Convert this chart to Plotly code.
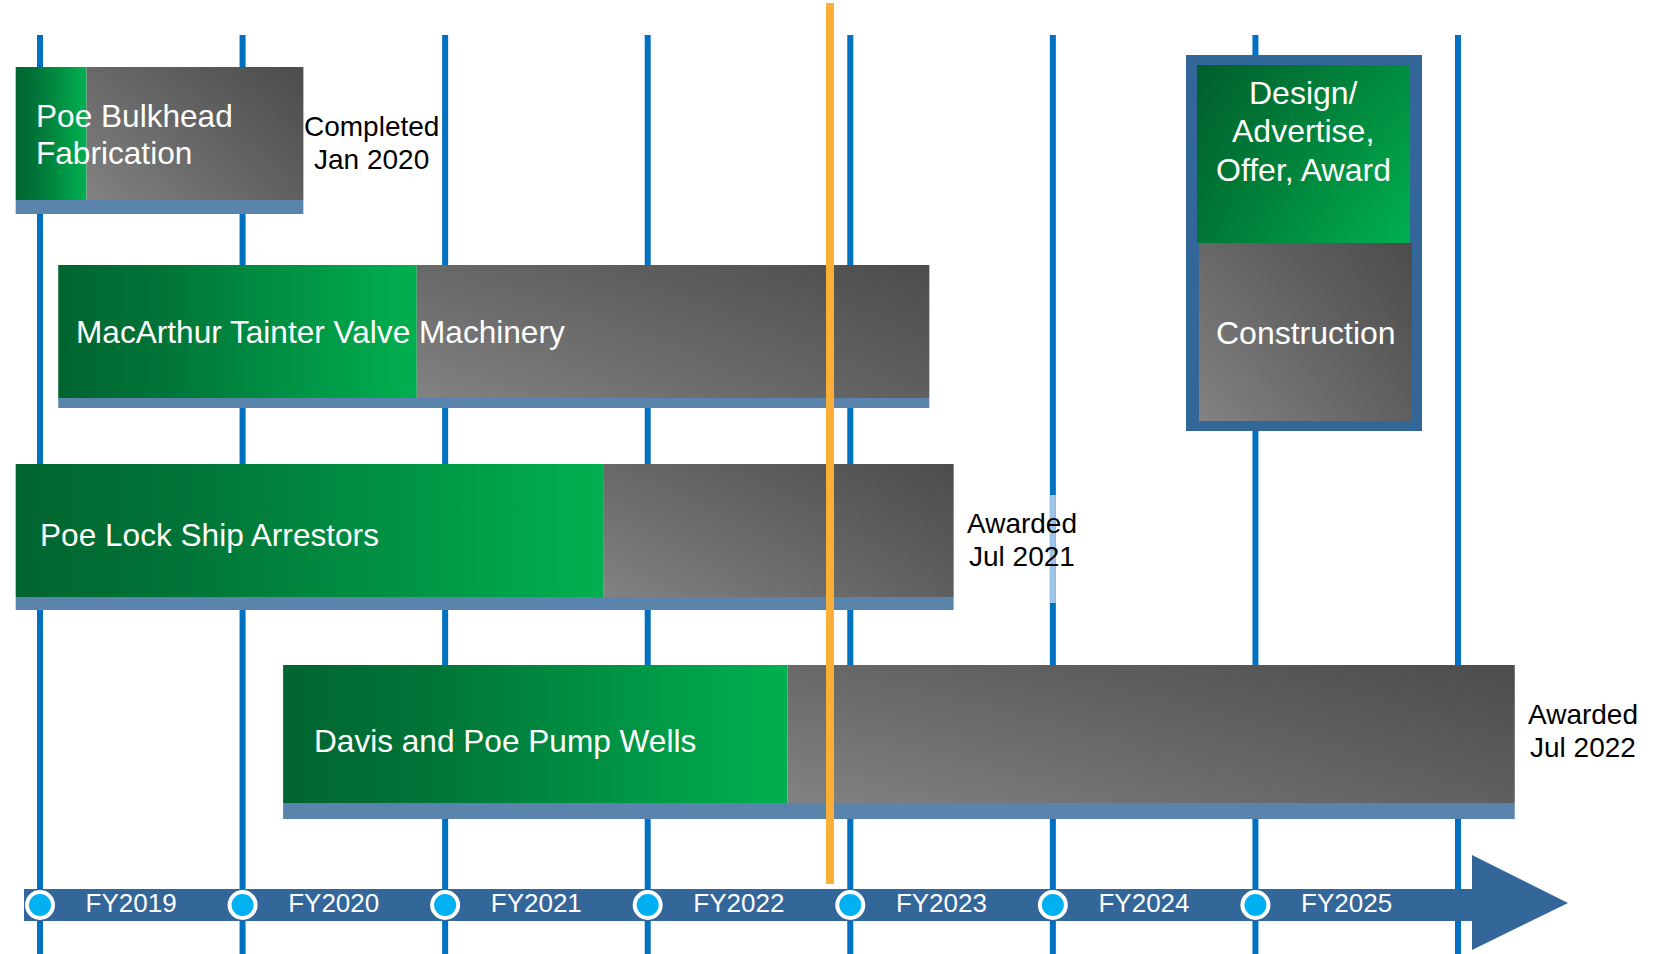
import plotly.graph_objects as go

# ---------------- data ----------------
projects = ["Poe Bulkhead<br>Fabrication",
            "MacArthur Tainter Valve Machinery",
            "Poe Lock Ship Arrestors",
            "Davis and Poe Pump Wells"]
start_fy = [2018.88, 2019.09, 2018.88, 2020.20]    # design start (fiscal-year units)
award_fy = [2019.23, 2020.86, 2021.78, 2022.69]    # end of design / award
finish_fy = [2020.30, 2023.39, 2023.51, 2026.28]   # end of construction
notes = ["Completed<br>Jan 2020", "", "Awarded<br>Jul 2021", "Awarded<br>Jul 2022"]
fiscal_years = [2019, 2020, 2021, 2022, 2023, 2024, 2025]
fy_labels = ["FY2019", "FY2020", "FY2021", "FY2022", "FY2023", "FY2024", "FY2025"]
today_fy = 2022.90
legend_labels = ["Design/<br>Advertise,<br>Offer, Award", "Construction"]

# ---------------- layout constants (pixels) ----------------
W, H = 1658, 954
X2019_PX, X2026_PX = 40, 1458
PPY = (X2026_PX - X2019_PX) / 7.0
x_range = [2019 - X2019_PX / PPY, 2019 + (W - X2019_PX) / PPY]


def px(xp):
    """pixel column -> fiscal-year axis units (for decorations)"""
    return 2019 + (xp - X2019_PX) / PPY


row_top = [67, 265, 464, 665]
row_bar_bottom = [200, 398, 597, 803]
row_strip_bottom = [214, 408, 610, 819]
label_pad = [18, 16, 22, 29]
label_dy = [1, 0, 4, 7]
note_y = [143, None, 540, 731]
line_top = 35
band_y = (889, 921)
band_mid = 905

FONT = "Liberation Sans, Arial, sans-serif"
LINE_BLUE = "#0070C0"
STRIP = "#5B84AC"
BAND = "#336699"
ORANGE = "#FBAE38"

# vertical gradients: position 0 = bottom edge, 1 = top edge
GREEN = dict(type="horizontal", colorscale=[[0, "#00652F"], [0.3, "#007538"], [1, "#00B050"]])
GRAY_V = dict(type="vertical", colorscale=[[0, "#828282"], [1, "#686868"]])
SHADE_H = dict(type="horizontal", colorscale=[[0, "rgba(0,0,0,0)"], [1, "rgba(0,0,0,0.27)"]])
LEG_GREEN = dict(type="horizontal", colorscale=[[0, "#007636"], [1, "#00B050"]])
SHADE_V = dict(type="vertical", colorscale=[[0, "rgba(0,0,0,0)"], [1, "rgba(0,0,0,0.2)"]])

fig = go.Figure()


def rect(x0, x1, y0, y1, color=None, grad=None):
    tr = go.Scatter(x=[x0, x1, x1, x0, x0], y=[y0, y0, y1, y1, y0],
                    mode="lines", fill="toself", line=dict(width=0),
                    hoverinfo="skip", showlegend=False)
    if grad is not None:
        tr.update(fillgradient=grad)
    else:
        tr.update(fillcolor=color)
    fig.add_trace(tr)


def multiline(x, y_center, text, size, color, spacing, xanchor, xshift=0):
    lines = text.split("<br>")
    n = len(lines)
    for k, ln in enumerate(lines):
        fig.add_annotation(x=x, xshift=xshift, xanchor=xanchor,
                           y=y_center + (k - (n - 1) / 2) * spacing, yanchor="middle",
                           text=ln, showarrow=False,
                           font=dict(family=FONT, size=size, color=color))


# year grid lines
gx, gy = [], []
for fy in fiscal_years + [fiscal_years[-1] + 1]:
    gx += [fy, fy, None]
    gy += [line_top, H, None]
fig.add_trace(go.Scatter(x=gx, y=gy, mode="lines", line=dict(color=LINE_BLUE, width=6),
                         hoverinfo="skip", showlegend=False))
# light tint of the grid line behind the "Awarded Jul 2021" note
fig.add_trace(go.Scatter(x=[2024, 2024], y=[note_y[2] - 45, note_y[2] + 63], mode="lines",
                         line=dict(color="#9DC3E6", width=6), hoverinfo="skip", showlegend=False))

# project bars
for i in range(len(projects)):
    rect(start_fy[i], award_fy[i], row_top[i], row_bar_bottom[i], grad=GREEN)
    rect(award_fy[i], finish_fy[i], row_top[i], row_bar_bottom[i], grad=GRAY_V)
    rect(award_fy[i], finish_fy[i], row_top[i], row_bar_bottom[i], grad=SHADE_H)
    rect(start_fy[i], finish_fy[i], row_bar_bottom[i], row_strip_bottom[i], color=STRIP)

# legend box
rect(px(1186), px(1422), 55, 431, color=BAND)
rect(px(1197), px(1410), 65, 243, grad=LEG_GREEN)
rect(px(1197), px(1410), 65, 243, grad=SHADE_V)
rect(px(1199), px(1412), 243, 421, grad=GRAY_V)
rect(px(1199), px(1412), 243, 421, grad=SHADE_H)

# today line
fig.add_trace(go.Scatter(x=[today_fy, today_fy], y=[3, 884], mode="lines",
                         line=dict(color=ORANGE, width=8), hoverinfo="skip", showlegend=False))

# timeline band + arrow head
rect(px(24), px(1472), band_y[0], band_y[1], color=BAND)
fig.add_trace(go.Scatter(x=[px(1472), px(1568), px(1472), px(1472)], y=[855, 903, 950, 855],
                         mode="lines", fill="toself", fillcolor=BAND, line=dict(width=0),
                         hoverinfo="skip", showlegend=False))

# fiscal year markers and labels
fig.add_trace(go.Scatter(x=fiscal_years, y=[band_mid] * len(fiscal_years), mode="markers",
                         marker=dict(size=26, color="#00B0F0", line=dict(color="white", width=4)),
                         hoverinfo="skip", showlegend=False))
fig.add_trace(go.Scatter(x=[fy + 0.45 for fy in fiscal_years], y=[band_mid] * len(fiscal_years),
                         mode="text", text=fy_labels, textposition="middle center",
                         textfont=dict(family=FONT, size=26, color="white"),
                         hoverinfo="skip", showlegend=False))

# annotations: bar labels and notes
for i, name in enumerate(projects):
    multiline(start_fy[i], (row_top[i] + row_bar_bottom[i]) / 2 + label_dy[i], name,
              31.6, "white", 37, "left", xshift=label_pad[i])
    if notes[i]:
        multiline(finish_fy[i], note_y[i], notes[i], 28, "black", 33, "center", xshift=68)

multiline(px(1303), 131, legend_labels[0], 32, "white", 38.5, "center")
multiline(px(1306), 333, legend_labels[1], 32, "white", 38.5, "center")

fig.update_layout(
    width=W, height=H, autosize=False,
    margin=dict(l=0, r=0, t=0, b=0, pad=0),
    paper_bgcolor="white", plot_bgcolor="white",
    showlegend=False,
    xaxis=dict(range=x_range, visible=False, fixedrange=True),
    yaxis=dict(range=[H, 0], visible=False, fixedrange=True),
)

fig.write_html("out.html", config={"displayModeBar": False},
               post_script="document.body.style.margin='0';document.body.style.padding='0';"
                           "document.body.style.overflow='hidden';")
